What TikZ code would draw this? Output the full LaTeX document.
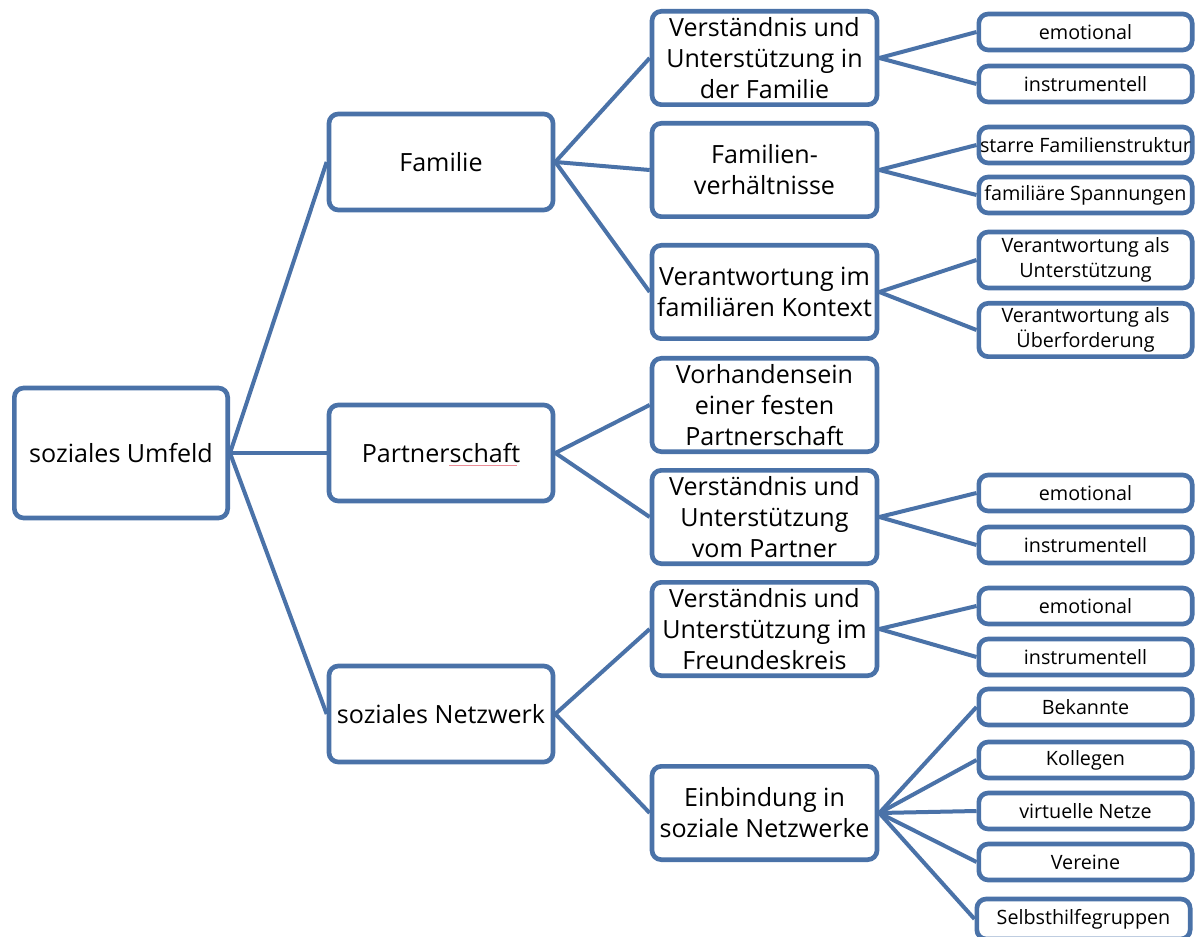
\documentclass[tikz,border=0pt]{standalone}
\usepackage{fontspec}
\setmainfont{Open Sans}
\definecolor{boxblue}{RGB}{74,114,168}
\definecolor{spellred}{RGB}{235,140,150}
\begin{document}
\begin{tikzpicture}[x=0.75pt,y=-0.75pt,
  box/.style={draw=boxblue, line width=3.5pt, rounded corners=7pt, fill=white,
    align=center, inner sep=0pt, text=black},
  rootbox/.style={box, minimum width=160pt, minimum height=97.5pt,
    font=\fontsize{18.8}{23}\selectfont},
  midbox/.style={box, minimum width=168pt, minimum height=72pt,
    font=\fontsize{18.8}{23}\selectfont},
  subbox/.style={box, minimum width=168.75pt, minimum height=70pt,
    font=\fontsize{18.8}{23.3}\selectfont},
  leafbox/.style={box, minimum width=160pt, minimum height=27pt,
    font=\fontsize{14.8}{19}\selectfont},
  link/.style={draw=boxblue, line width=3pt}]
\clip (0,0) rectangle (1198,937);
\fill[white] (0,0) rectangle (1198,937);

% root and first level
\node[rootbox] (root) at (121,453) {soziales Umfeld};
\node[midbox] (fam)  at (441,162) {Familie};
\node[midbox] (part) at (441,453) {Partnerschaft};
\node[midbox] (netz) at (441,714) {soziales Netzwerk};

% second level
\node[subbox] (famA)  at (764.5,58)  {Verständnis und\\Unterstützung in\\der Familie};
\node[subbox] (famB)  at (764.5,170) {Familien-\\verhältnisse};
\node[subbox] (famC)  at (764.5,292) {Verantwortung im\\familiären Kontext};
\node[subbox] (partA) at (764.5,405) {Vorhandensein\\einer festen\\Partnerschaft};
\node[subbox] (partB) at (764.5,517) {Verständnis und\\Unterstützung\\vom Partner};
\node[subbox] (netzA) at (764.5,629) {Verständnis und\\Unterstützung im\\Freundeskreis};
\node[subbox] (netzB) at (764.5,813) {Einbindung in\\soziale Netzwerke};

% third level
\node[leafbox] (famA1) at (1085.5,32)  {emotional};
\node[leafbox] (famA2) at (1085.5,84)  {instrumentell};
\node[leafbox] (famB1) at (1085.5,145) {starre Familienstruktur};
\node[leafbox] (famB2) at (1085.5,195) {familiäre Spannungen};
\node[leafbox, minimum height=42pt] (famC1) at (1085.5,260) {Verantwortung als\\Unterstützung};
\node[leafbox, minimum height=40pt] (famC2) at (1085.5,330) {Verantwortung als\\Überforderung};
\node[leafbox] (partB1) at (1085.5,493) {emotional};
\node[leafbox] (partB2) at (1085.5,545) {instrumentell};
\node[leafbox] (netzA1) at (1085.5,606) {emotional};
\node[leafbox] (netzA2) at (1085.5,657) {instrumentell};
\node[leafbox] (netzB1) at (1085.5,707) {Bekannte};
\node[leafbox] (netzB2) at (1085.5,760) {Kollegen};
\node[leafbox] (netzB3) at (1085.5,811) {virtuelle Netze};
\node[leafbox] (netzB4) at (1085.5,862) {Vereine};
\node[leafbox, minimum height=30pt] (netzB5) at (1083.5,919) {Selbsthilfegruppen};

% connectors
\foreach \c in {fam,part,netz}
  \draw[link] (root.east) -- (\c.west);
\foreach \c in {famA,famB,famC}
  \draw[link] (fam.east) -- (\c.west);
\foreach \c in {partA,partB}
  \draw[link] (part.east) -- (\c.west);
\foreach \c in {netzA,netzB}
  \draw[link] (netz.east) -- (\c.west);
\foreach \p/\c in {famA/famA1,famA/famA2,famB/famB1,famB/famB2,famC/famC1,famC/famC2,
                   partB/partB1,partB/partB2,netzA/netzA1,netzA/netzA2,
                   netzB/netzB1,netzB/netzB2,netzB/netzB3,netzB/netzB4,netzB/netzB5}
  \draw[link] (\p.east) -- (\c.west);

% spell-check mark under the second half of "Partnerschaft"
\draw[spellred, line width=0.6pt] (449,465) -- (517,465);
\end{tikzpicture}
\end{document}
